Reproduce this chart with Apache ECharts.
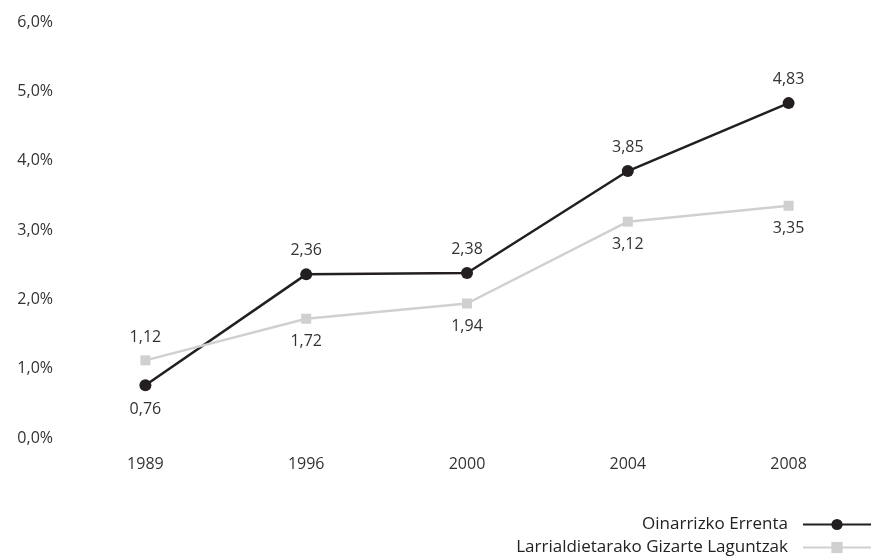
<!DOCTYPE html>
<html><head><meta charset="utf-8">
<script src="https://cdn.jsdelivr.net/npm/echarts@6/dist/echarts.min.js"></script>
<style>html,body{margin:0;padding:0;background:#fff}#c{width:878px;height:558px}</style>
</head><body><div id="c"></div>
<script>
const years = ['1989','1996','2000','2004','2008'];
const seriesNames = ['Oinarrizko Errenta','Larrialdietarako Gizarte Laguntzak'];
const oinarrizko = [0.76, 2.36, 2.38, 3.85, 4.83];
const larrialdi = [1.12, 1.72, 1.94, 3.12, 3.35];
const oinarrizkoLabelPos = ['bottom','top','top','top','top'];
const larrialdiLabelPos = ['top','bottom','bottom','bottom','bottom'];
const fmt = v => v.toFixed(2).replace('.', ',');
const font = '"Open Sans", Lato, sans-serif';
const legendBase = {orient:'vertical', right:6, padding:0, align:'right', itemWidth:68, itemHeight:14,
  textStyle:{color:'#222', fontSize:17, fontFamily:font, padding:[0,10,0,0]}};
const chart = echarts.init(document.getElementById('c'));
chart.setOption({
  animation:false,
  textStyle:{fontFamily:font},
  grid:{left:65, right:9, top:22, bottom:120},
  xAxis:{type:'category', data:years, boundaryGap:true,
    axisLine:{show:false}, axisTick:{show:false},
    axisLabel:{color:'#333', fontSize:16, margin:18, fontFamily:font}},
  yAxis:{type:'value', min:0, max:6, interval:1,
    splitLine:{show:false}, axisLine:{show:false}, axisTick:{show:false},
    axisLabel:{color:'#333', fontSize:16, margin:12, fontFamily:font,
      formatter:v=>v.toFixed(1).replace('.',',')+'%'}},
  legend:[
    Object.assign({}, legendBase, {top:516, data:[seriesNames[0]]}),
    Object.assign({}, legendBase, {top:539, data:[seriesNames[1]]})
  ],
  series:[
    {name:seriesNames[0], type:'line', symbol:'circle', symbolSize:12,
     lineStyle:{color:'#231f20', width:2.5}, itemStyle:{color:'#231f20'},
     data:oinarrizko.map((v,i)=>({value:v, label:{position:oinarrizkoLabelPos[i]}})),
     label:{show:true, distance:10, color:'#333', fontSize:16, fontFamily:font, formatter:p=>fmt(p.value)}},
    {name:seriesNames[1], type:'line', symbol:'rect', symbolSize:10,
     lineStyle:{color:'#d0d0d0', width:2.5}, itemStyle:{color:'#d0d0d0'},
     data:larrialdi.map((v,i)=>({value:v, label:{position:larrialdiLabelPos[i]}})),
     label:{show:true, distance:10, color:'#333', fontSize:16, fontFamily:font, formatter:p=>fmt(p.value)}}
  ]
});
</script></body></html>
